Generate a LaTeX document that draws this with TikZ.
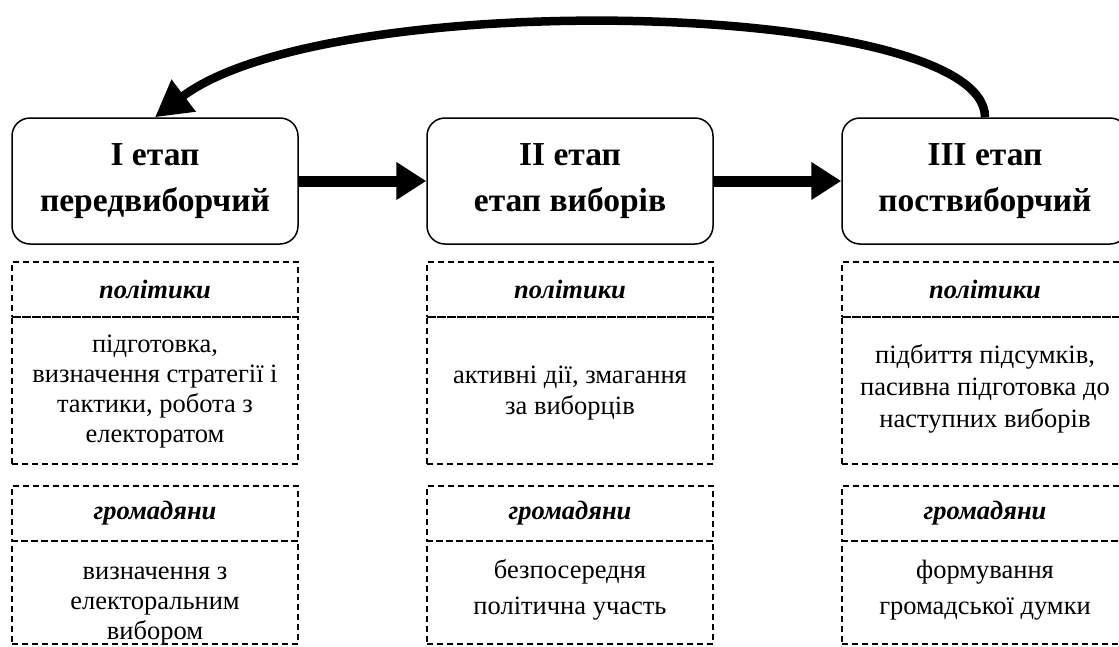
\documentclass[tikz,border=0pt]{standalone}
\usepackage{fontspec}
\setmainfont{Liberation Serif}
\usetikzlibrary{arrows.meta}
\tikzset{
 stage/.style={draw, line width=1.5pt, rounded corners=18pt, minimum width=286pt, minimum height=126pt, inner sep=0pt, font=\bfseries\fontsize{33.5}{46}\selectfont, align=center},
 dbox/.style={draw, dash pattern=on 6pt off 4pt, line width=1.3pt, minimum width=286pt, inner sep=0pt},
 headtxt/.style={font=\bfseries\itshape\fontsize{26.5}{30}\selectfont},
 bodytxt/.style={font=\fontsize{26.5}{30}\selectfont, align=center},
 flow/.style={line width=11pt, -{Triangle[length=30pt,width=36pt]}},
 backflow/.style={line width=8.5pt, -{Triangle[length=36pt,width=38pt]}},
}
\begin{document}
\begin{tikzpicture}[x=1pt,y=-1pt]
\useasboundingbox[fill=white] (0,0) rectangle (1119,646);
% stages
\node[stage] (s1) at (155,181) {I етап\\передвиборчий};
\node[stage] (s2) at (570,181) {II етап\\етап виборів};
\node[stage] (s3) at (985,181) {III етап\\поствиборчий};
% connectors
\draw[flow] (s1.east) -- (s2.west);
\draw[flow] (s2.east) -- (s3.west);
\draw[backflow] (s3.north) .. controls (985,0) and (330,-15) .. (s1.north);
% column boxes
\foreach \n/\x in {1/155,2/570,3/985}{
  \node[dbox, minimum height=55pt] (p\n h) at (\x,289.5) {};
  \node[dbox, minimum height=147pt] (p\n b) at (\x,390.5) {};
  \node[dbox, minimum height=55pt] (g\n h) at (\x,513.5) {};
  \node[dbox, minimum height=103pt] (g\n b) at (\x,592.5) {};
  \node[headtxt] (p\n ht) at (p\n h.center) {політики};
  \node[headtxt] (g\n ht) at (g\n h.center) {громадяни};
}
\node[bodytxt] (p1t) at (155,392) {підготовка,\\визначення стратегії і\\тактики, робота з\\електоратом};
\node[bodytxt, font=\fontsize{26.5}{31}\selectfont] (p2t) at (570,393) {активні дії, змагання\\за виборців};
\node[bodytxt, font=\fontsize{26.5}{32}\selectfont] (p3t) at (985,389) {підбиття підсумків,\\пасивна підготовка до\\наступних виборів};
\node[bodytxt] (g1t) at (155,606) {визначення з\\електоральним\\вибором};
\node[bodytxt, font=\fontsize{26.5}{36}\selectfont] (g2t) at (570,590) {безпосередня\\політична участь};
\node[bodytxt, font=\fontsize{26.5}{36}\selectfont] (g3t) at (985,590) {формування\\громадської думки};
\end{tikzpicture}
\end{document}
